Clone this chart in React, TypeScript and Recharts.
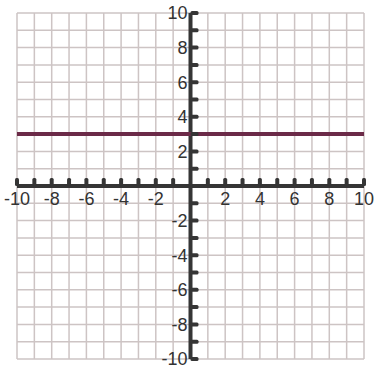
import { ComposedChart, Line, XAxis, YAxis, ReferenceLine, ReferenceDot } from 'recharts';

// grid runs every unit from -10 to 10 on both axes
const gridTicks = [-10, -9, -8, -7, -6, -5, -4, -3, -2, -1, 0, 1, 2, 3, 4, 5, 6, 7, 8, 9, 10];
const axisMarks = [-10, -9, -8, -7, -6, -5, -4, -3, -2, -1, 1, 2, 3, 4, 5, 6, 7, 8, 9, 10];
const labelValues = [-10, -8, -6, -4, -2, 2, 4, 6, 8, 10];

// y = 3
const lineX = [-10, 10];
const lineY = [3, 3];

const lineData = lineX.map((x, i) => ({ x, y: lineY[i] }));

const axisColor = '#353535';
const gridColor = '#cdc4c4';
const lineColor = '#6b2a48';
const font = 'Liberation Sans, Arial, sans-serif';

function XMark(props: any) {
  const { cx, cy, label } = props;
  return (
    <g>
      <rect x={cx - 2} y={cy - 8} width={4} height={8} rx={1.5} fill={axisColor} />
      {label && (
        <text x={cx} y={cy + 19} textAnchor="middle" fontSize={18} fontFamily={font} fill="#333">
          {label}
        </text>
      )}
    </g>
  );
}

function YMark(props: any) {
  const { cx, cy, label } = props;
  return (
    <g>
      <rect x={cx} y={cy - 2} width={8} height={4} rx={1.5} fill={axisColor} />
      {label && (
        <text x={cx - 3} y={cy} dy="0.35em" textAnchor="end" fontSize={18} fontFamily={font} fill="#333">
          {label}
        </text>
      )}
    </g>
  );
}

export default function App() {
  return (
    <div style={{ position: 'absolute', left: 0, top: 0 }}>
      <ComposedChart
        width={374}
        height={368}
        data={lineData}
        margin={{ top: 13, right: 10, bottom: 9, left: 17 }}
      >
        <XAxis
          type="number"
          dataKey="x"
          domain={[-10, 10]}
          ticks={gridTicks}
          interval={0}
          height={0}
          tick={false}
          axisLine={false}
          tickLine={false}
        />
        <YAxis
          type="number"
          domain={[-10, 10]}
          ticks={gridTicks}
          interval={0}
          width={0}
          tick={false}
          axisLine={false}
          tickLine={false}
        />
        {gridTicks.map((v) => (
          <ReferenceLine key={`gv${v}`} x={v} stroke={gridColor} strokeWidth={1.5} ifOverflow="visible" />
        ))}
        {gridTicks.map((v) => (
          <ReferenceLine key={`gh${v}`} y={v} stroke={gridColor} strokeWidth={1.5} ifOverflow="visible" />
        ))}
        <ReferenceLine y={0} stroke={axisColor} strokeWidth={4} ifOverflow="visible" />
        <ReferenceLine x={0} stroke={axisColor} strokeWidth={4} ifOverflow="visible" />
        {axisMarks.map((v) => (
          <ReferenceDot
            key={`x${v}`}
            x={v}
            y={0}
            ifOverflow="visible"
            shape={(p: any) => <XMark {...p} label={labelValues.includes(v) ? String(v) : ''} />}
          />
        ))}
        {axisMarks.map((v) => (
          <ReferenceDot
            key={`y${v}`}
            x={0}
            y={v}
            ifOverflow="visible"
            shape={(p: any) => <YMark {...p} label={labelValues.includes(v) ? String(v) : ''} />}
          />
        ))}
        <Line
          dataKey="y"
          stroke={lineColor}
          strokeWidth={4}
          dot={false}
          activeDot={false}
          isAnimationActive={false}
        />
      </ComposedChart>
    </div>
  );
}
